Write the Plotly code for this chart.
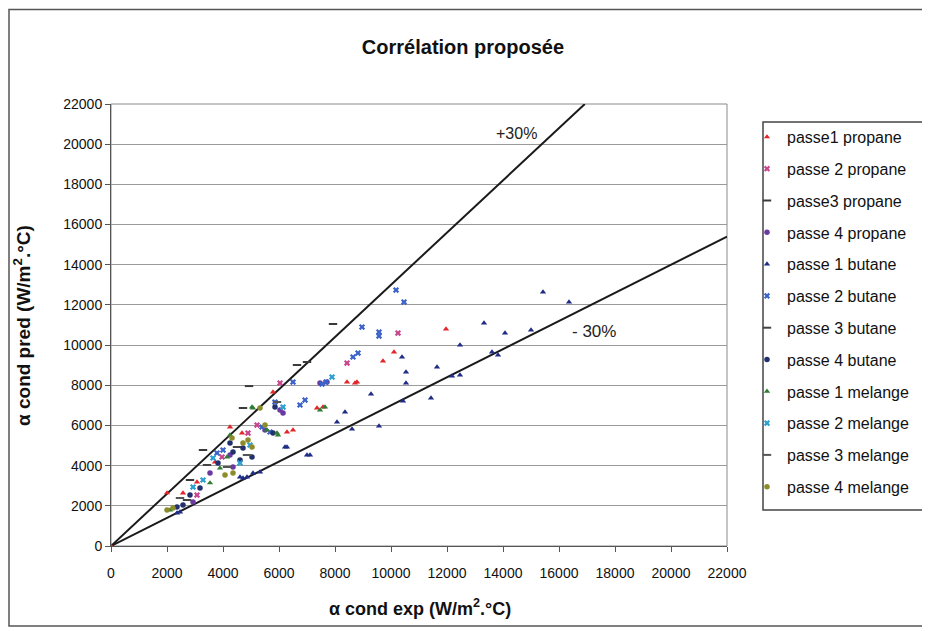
import plotly.graph_objects as go

# ---------------- data ----------------
series_names = ["passe1 propane", "passe 2 propane", "passe3 propane", "passe 4 propane",
                "passe 1 butane", "passe 2 butane", "passe 3 butane", "passe 4 butane",
                "passe 1 melange", "passe 2 melange", "passe 3 melange", "passe 4 melange"]

p1_propane_x = [0, 2000, 11964, 9714, 10107, 8429, 8786, 8714, 7357, 7571, 6286, 6500, 4250, 5786, 4679, 3714, 2571, 3071]
p1_propane_y = [0, 2640, 10800, 9207, 9655, 8162, 8162, 8113, 6868, 6918, 5674, 5773, 5923, 7665, 5624, 4181, 2638, 3185]

p2_propane_x = [10250, 6036, 8429, 4893, 3964, 3071, 5214]
p2_propane_y = [10601, 8113, 9108, 5624, 4430, 2538, 6022]

p3_propane_x = [7929, 4930, 4714, 6643, 7000, 3286, 2821]
p3_propane_y = [11049, 7960, 6868, 9008, 9158, 4778, 3285]

p4_propane_x = [6036, 6143, 5500, 7714, 7464, 4250, 3536, 2929, 4357]
p4_propane_y = [6769, 6619, 5773, 8162, 8113, 4529, 3633, 2190, 3932]

p1_butane_x = [15429, 16357, 13321, 14071, 15000, 12464, 13607, 13821, 12179, 12464, 11643, 11429, 10429,
               10536, 10536, 10393, 9286, 8357, 8071, 8607, 9571, 6214, 6286, 7000, 7107, 4607, 4714, 4857,
               5321, 2357, 2464, 5071]
p1_butane_y = [12642, 12144, 11099, 10601, 10750, 10004, 9655, 9506, 8461, 8511, 8909, 7366, 7217,
               8660, 8113, 9407, 7565, 6669, 6171, 5823, 5973, 4927, 4927, 4529, 4529, 3434, 3384, 3434,
               3683, 1642, 1692, 3633]

p2_butane_x = [10179, 10464, 9571, 9571, 8964, 8643, 8821, 7536, 7679, 6500, 5857, 6929, 6750, 5393, 5679, 4000, 3786]
p2_butane_y = [12741, 12144, 10651, 10452, 10900, 9407, 9606, 8063, 8162, 8162, 7167, 7266, 7018, 5923, 5674, 4778, 4629]

p3_butane_x = [4500, 3429, 2714]
p3_butane_y = [4927, 4031, 2289]

p4_butane_x = [5857, 5786, 4250, 4714, 3821, 4607, 2571, 2821, 3179, 2357, 4357, 5036]
p4_butane_y = [6918, 5624, 5126, 4877, 4131, 4280, 2041, 2538, 2887, 1941, 4678, 4430]

p1_melange_x = [7464, 7643, 5036, 5071, 5929, 5964, 4250, 3893, 2107, 4143, 5571, 3536]
p1_melange_y = [6769, 6918, 6918, 6868, 5624, 5524, 5524, 3882, 1792, 4430, 5773, 3136]

p2_melange_x = [7893, 6143, 4964, 4607, 2929, 3286, 3643]
p2_melange_y = [8411, 6918, 5027, 4131, 2936, 3285, 4380]

p3_melange_x = [5929, 4857, 4143, 2464]
p3_melange_y = [7167, 4529, 3932, 2389]

p4_melange_x = [5321, 4321, 4893, 4714, 2000, 2214, 4071, 4357, 5036, 5500]
p4_melange_y = [6868, 5375, 5276, 5126, 1792, 1891, 3534, 3633, 4927, 6022]

# limit lines (+30 % / -30 %)
plus30_x = [0, 16923]
plus30_y = [0, 22000]
minus30_x = [0, 22000]
minus30_y = [0, 15400]

axis_ticks = [0, 2000, 4000, 6000, 8000, 10000, 12000, 14000, 16000, 18000, 20000, 22000]

# ---------------- styles ----------------
xs = [p1_propane_x, p2_propane_x, p3_propane_x, p4_propane_x,
      p1_butane_x, p2_butane_x, p3_butane_x, p4_butane_x,
      p1_melange_x, p2_melange_x, p3_melange_x, p4_melange_x]
ys = [p1_propane_y, p2_propane_y, p3_propane_y, p4_propane_y,
      p1_butane_y, p2_butane_y, p3_butane_y, p4_butane_y,
      p1_melange_y, p2_melange_y, p3_melange_y, p4_melange_y]
symbols = ["triangle-up", "x", "line-ew", "circle"] * 3
colors = ["#E3262B", "#C8458E", "#3A3A3A", "#6A3AA0",
          "#1F2D86", "#3A62C8", "#444444", "#22306E",
          "#2E7D32", "#2A9FD0", "#555555", "#8C8C2A"]

fig = go.Figure()

fig.add_trace(go.Scatter(x=plus30_x, y=plus30_y, mode="lines",
                         line=dict(color="#1a1a1a", width=2), showlegend=False, hoverinfo="skip"))
fig.add_trace(go.Scatter(x=minus30_x, y=minus30_y, mode="lines",
                         line=dict(color="#1a1a1a", width=2), showlegend=False, hoverinfo="skip"))

for i, name in enumerate(series_names):
    sym = symbols[i]
    if sym == "line-ew":
        marker = dict(symbol=sym, size=6, line=dict(color=colors[i], width=2))
    else:
        marker = dict(symbol=sym, size=5.5, color=colors[i], line=dict(width=0))
    fig.add_trace(go.Scatter(x=xs[i], y=ys[i], mode="markers", name=name,
                             marker=marker, legendgroup=f"g{i}"))

bold_font = "Liberation Sans, Arial, sans-serif"
regular = "Liberation Sans, Arial, sans-serif"

OFF = 8  # page body margin
L, T = 111 - OFF, 104 - OFF
R = 930 - (727 - OFF)
B = 631 - (546 - OFF)
PW, PH = 930 - L - R, 631 - T - B


def px(xs_):
    return (xs_ - OFF - L) / PW


def py(ys_):
    return (631 - B - (ys_ - OFF)) / PH


fig.update_layout(
    width=930, height=631,
    margin=dict(l=L, r=R, t=T, b=B),
    paper_bgcolor="white", plot_bgcolor="white",
    title=dict(text="<b>Corrélation proposée</b>", x=px(463), xref="paper", xanchor="center",
               y=1 - (47 - OFF) / 631, yanchor="middle", font=dict(family=bold_font, size=20, color="#111")),
    xaxis=dict(range=[0, 22000], tickvals=axis_ticks, ticktext=[str(t) for t in axis_ticks],
               showgrid=False, zeroline=False, showline=True, linecolor="#555", linewidth=1,
               ticks="outside", ticklen=5, tickcolor="#555", ticklabelstandoff=9,
               tickfont=dict(family=regular, size=14, color="#111")),
    yaxis=dict(range=[0, 22000], tickvals=axis_ticks, ticktext=[str(t) for t in axis_ticks],
               showgrid=True, gridcolor="#9a9a9a", gridwidth=1, zeroline=False,
               showline=True, linecolor="#555", linewidth=1,
               ticks="outside", ticklen=5, tickcolor="#555",
               tickfont=dict(family=regular, size=14, color="#111")),
    legend=dict(x=px(747), xanchor="left", y=py(120), yanchor="top",
                font=dict(family=regular, size=16, color="#111"),
                bgcolor="rgba(0,0,0,0)", borderwidth=0, tracegroupgap=8,
                itemsizing="trace"),
    showlegend=True,
)

shapes = [
    # outer chart frame
    dict(type="rect", xref="paper", yref="paper", x0=px(9), x1=px(945), y0=py(626), y1=py(9.5),
         line=dict(color="#555", width=1.5), fillcolor="rgba(0,0,0,0)", layer="below"),
    # plot-area edge
    dict(type="rect", xref="paper", yref="paper", x0=0, x1=1, y0=0, y1=1,
         line=dict(color="#8a8a8a", width=1), fillcolor="rgba(0,0,0,0)", layer="below"),
    # legend box
    dict(type="rect", xref="paper", yref="paper", x0=px(763), x1=px(950), y0=py(510), y1=py(122),
         line=dict(color="#444", width=1.5), fillcolor="rgba(0,0,0,0)"),
]
fig.update_layout(shapes=shapes)

fig.add_annotation(text="<b>α cond exp (W/m<sup>2</sup>.°C)</b>", xref="paper", yref="paper",
                   x=px(420), y=py(607), showarrow=False, xanchor="center", yanchor="middle",
                   font=dict(family=bold_font, size=18, color="#111"))
fig.add_annotation(text="<b>α cond pred (W/m<sup>2</sup>.°C)</b>", xref="paper", yref="paper",
                   x=px(22), y=py(326), showarrow=False, textangle=-90, xanchor="center", yanchor="middle",
                   font=dict(family=bold_font, size=19, color="#111"))
fig.add_annotation(text="+30%", xref="paper", yref="paper", x=px(516), y=py(133), showarrow=False,
                   xanchor="center", yanchor="middle",
                   font=dict(family=regular, size=16, color="#222"))
fig.add_annotation(text="- 30%", xref="paper", yref="paper", x=px(594), y=py(331), showarrow=False,
                   xanchor="center", yanchor="middle",
                   font=dict(family=regular, size=17, color="#222"))

fig.write_html("out.html")
